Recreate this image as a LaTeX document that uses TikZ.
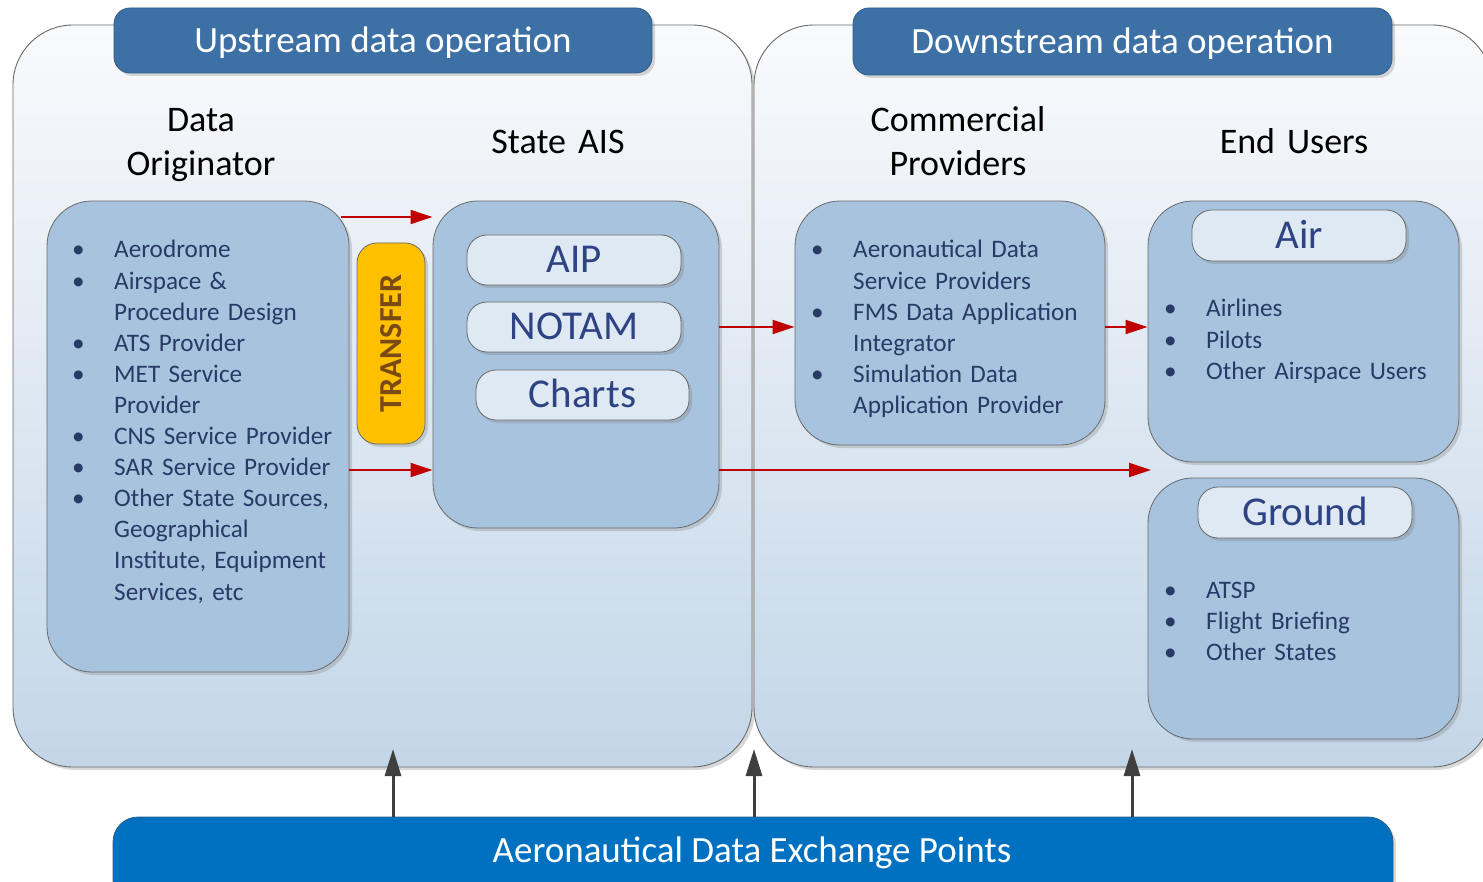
\documentclass[tikz,border=0pt]{standalone}
\usepackage{fontspec}
\setmainfont{Carlito}
\usetikzlibrary{shadows,arrows.meta,calc}
\definecolor{hdr}{HTML}{3D71A5}
\definecolor{hdrline}{HTML}{2F5B88}
\definecolor{boxfill}{HTML}{A7C3DE}
\definecolor{pillfill}{HTML}{DFE9F3}
\definecolor{linegray}{HTML}{6A6A6A}
\definecolor{navy}{HTML}{283A66}
\definecolor{pilltext}{HTML}{2E4383}
\definecolor{barblue}{HTML}{0070C0}
\definecolor{redarr}{HTML}{C00000}
\definecolor{darkarr}{HTML}{3F3F3F}
\definecolor{transfer}{HTML}{FFC000}
\definecolor{transtext}{HTML}{7A4A14}
\definecolor{paneltop}{HTML}{F9FAFC}
\definecolor{panelbot}{HTML}{C3D6E8}
\newcommand{\bul}{\makebox[42pt][l]{\textbullet}}
\newcommand{\ind}{\hspace*{42pt}}
\begin{document}
\begin{tikzpicture}[x=1pt,y=-1pt,
  shad/.style={drop shadow={opacity=0.3,shadow xshift=3pt,shadow yshift=-3pt}},
  panel/.style={draw=linegray,line width=0.9pt,top color=paneltop,bottom color=panelbot,
    rounded corners=60pt,inner sep=0pt,shad},
  header/.style={draw=hdrline,line width=0.8pt,fill=hdr,rounded corners=16pt,inner sep=0pt,
    text=white,font=\fontsize{37}{44}\selectfont,text height=23.3pt,text depth=0pt,shad},
  bigbox/.style={draw=linegray,line width=0.8pt,fill=boxfill,rounded corners=45pt,inner sep=0pt,shad},
  pill/.style={draw=linegray,line width=0.8pt,fill=pillfill,rounded corners=20pt,inner sep=0pt,
    minimum width=214pt,minimum height=50pt,text=pilltext,
    font=\fontsize{41}{48}\selectfont,text height=25.8pt,text depth=0pt,shad},
  title/.style={text=black,font=\fontsize{36}{44}\selectfont,align=center,text width=320pt,
    inner sep=0pt,anchor=base},
  listtext/.style={text=navy,font=\fontsize{25.2}{31.1}\selectfont,align=left,text width=330pt,
    inner sep=0pt,anchor=base west},
  redarrow/.style={draw=redarr,line width=2pt,-{Triangle[length=22pt,width=14pt]}},
  uparrow/.style={draw=darkarr,line width=3pt,-{Triangle[length=27pt,width=16pt]}},
]
\useasboundingbox (0,0) rectangle (1483,882);
\fill[white] (0,0) rectangle (1483,882);

% big panels
\node[panel,minimum width=739pt,minimum height=742pt] (up) at (382.5,396) {};
\node[panel,minimum width=738pt,minimum height=742pt] (down) at (1123,396) {};

% headers
\node[header,minimum width=538pt,minimum height=65pt] (uphdr) at (383,40.5) {Upstream data operation};
\node[header,minimum width=539pt,minimum height=67pt] (downhdr) at (1122.5,41.5) {Downstream data operation};

% titles
\node[title] (torig) at (201,131.5) {Data\\Originator};
\node[title] (tais) at (558,153.5) {State AIS};
\node[title] (tcomm) at (958,131.5) {Commercial\\Providers};
\node[title] (tend) at (1294,153.5) {End Users};

% boxes
\node[bigbox,minimum width=302pt,minimum height=471pt] (orig) at (198,436.5) {};
\node[bigbox,minimum width=286pt,minimum height=327pt] (ais) at (576,364.5) {};
\node[bigbox,minimum width=310pt,minimum height=244pt] (comm) at (950,323) {};
\node[bigbox,minimum width=311pt,minimum height=261pt] (air) at (1303.5,331.5) {};
\node[bigbox,minimum width=311pt,minimum height=261pt] (ground) at (1303.5,608.5) {};

% transfer
\node[draw=linegray,line width=0.8pt,fill=transfer,rounded corners=20pt,inner sep=0pt,
  minimum width=201pt,minimum height=68pt,rotate=90,text=transtext,
  font=\fontsize{32}{38}\selectfont\bfseries,text height=20.2pt,text depth=0pt,shad]
  (transfer) at (391,343.5) {TRANSFER};

% pills
\node[pill] (aip) at (574,260) {AIP};
\node[pill] (notam) at (574,327) {NOTAM};
\node[pill,minimum width=213pt] (charts) at (582.5,395) {Charts};
\node[pill,minimum height=51pt] (airp) at (1299,235.5) {Air};
\node[pill,minimum height=51pt] (groundp) at (1305,512.5) {Ground};

% lists
\node[listtext] (lorig) at (72,258) {\bul Aerodrome\\\bul Airspace \&\\\ind Procedure Design\\\bul ATS Provider\\\bul MET Service\\\ind Provider\\\bul CNS Service Provider\\\bul SAR Service Provider\\\bul Other State Sources,\\\ind Geographical\\\ind Institute, Equipment\\\ind Services, etc};
\node[listtext] (lcomm) at (811,258) {\bul Aeronautical Data\\\ind Service Providers\\\bul FMS Data Application\\\ind Integrator\\\bul Simulation Data\\\ind Application Provider};
\node[listtext] (lair) at (1164,317) {\bul Airlines\\\bul Pilots\\\bul Other Airspace Users};
\node[listtext] (lground) at (1164,598) {\bul ATSP\\\bul Flight Briefing\\\bul Other States};

% bottom bar
\node[draw=hdrline,line width=0.8pt,fill=barblue,rounded corners=25pt,inner sep=0pt,
  minimum width=1280pt,minimum height=88pt,shad] (bar) at (753,861) {};
\node[text=white,font=\fontsize{37}{44}\selectfont,inner sep=0pt,anchor=base] (bart) at (752,862) {Aeronautical Data Exchange Points};

% red connectors
\coordinate (r217) at (341,217);
\coordinate (r327) at (0,327);
\coordinate (r470) at (0,470);
\coordinate (gtip) at (1151,470);
\draw[redarrow] (r217) -- (r217 -| ais.west);
\draw[redarrow] (orig.east |- r470) -- (ais.west |- r470);
\draw[redarrow] (ais.east |- r327) -- (comm.west |- r327);
\draw[redarrow] (comm.east |- r327) -- (air.west |- r327);
\draw[redarrow] (ais.east |- r470) -- (gtip);

% up arrows
\coordinate (u1) at (393,749);
\coordinate (u2) at (754,749);
\coordinate (u3) at (1132,749);
\draw[uparrow] (bar.north -| u1) -- (u1);
\draw[uparrow] (bar.north -| u2) -- (u2);
\draw[uparrow] (bar.north -| u3) -- (u3);
\end{tikzpicture}
\end{document}
